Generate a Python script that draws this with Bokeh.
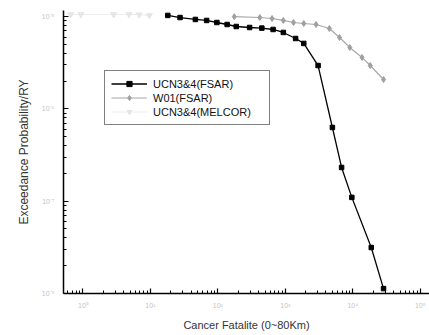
from bokeh.plotting import figure
from bokeh.models import FixedTicker, Legend, LegendItem
from bokeh.embed import file_html
from bokeh.resources import INLINE

# ---- data ----
ucn_fsar_x = [18.1, 27.5, 46.4, 68.1, 96.6, 137, 187, 295, 448, 658, 933, 1418, 1874,
              3055, 4977, 6810, 9660, 18740, 28500]
ucn_fsar_y = [1.03e-5, 9.77e-6, 9.31e-6, 9.08e-6, 8.63e-6, 8.21e-6, 7.81e-6, 7.62e-6,
              7.5e-6, 7.25e-6, 6.73e-6, 5.79e-6, 5.12e-6, 2.95e-6, 6.29e-7, 2.32e-7,
              1.10e-7, 3.15e-8, 1.13e-8]

w01_x = [175, 418, 635, 933, 1322, 1874, 2851, 4487, 6353, 9010, 13680, 18110, 28500]
w01_y = [9.98e-6, 9.77e-6, 9.53e-6, 9.08e-6, 8.63e-6, 8.42e-6, 8.21e-6, 7.43e-6,
         5.94e-6, 4.63e-6, 3.61e-6, 2.95e-6, 2.08e-6]

melcor_x = [0.658, 0.933, 2.85, 4.81, 6.81, 9.66]
melcor_y = [1.055e-5, 1.055e-5, 1.055e-5, 1.055e-5, 1.05e-5, 1.03e-5]

x_ticks = [1, 10, 100, 1000, 10000, 100000]
x_tick_labels = ["10\u2070", "10\u00b9", "10\u00b2", "10\u00b3", "10\u2074", "10\u2075"]
y_ticks = [1e-8, 1e-7, 1e-6, 1e-5]
y_tick_labels = ["10\u207b\u2078", "10\u207b\u2077", "10\u207b\u2076", "10\u207b\u2075"]

series_names = ["UCN3&4(FSAR)", "W01(FSAR)", "UCN3&4(MELCOR)"]

FONT = "Liberation Sans"

p = figure(width=429, height=335, x_axis_type="log", y_axis_type="log",
           x_range=(10 ** -0.288, 10 ** 5.136), y_range=(1e-8, 10 ** -4.934),
           output_backend="svg", toolbar_location=None,
           min_border_left=63, min_border_right=0, min_border_top=10, min_border_bottom=42)
p.outline_line_color = None
p.xgrid.visible = False
p.ygrid.visible = False
p.background_fill_color = "white"

def minor_for(ticks):
    out = [ticks[0] / 10 * k for k in range(2, 10)]
    for t in ticks:
        for k in range(2, 10):
            out.append(t * k)
    return out

p.xaxis.ticker = FixedTicker(ticks=x_ticks, minor_ticks=minor_for(x_ticks))
p.yaxis.ticker = FixedTicker(ticks=y_ticks, minor_ticks=minor_for(y_ticks))
p.xaxis.major_label_overrides = {t: l for t, l in zip(x_ticks, x_tick_labels)}
p.yaxis.major_label_overrides = {t: l for t, l in zip(y_ticks, y_tick_labels)}

for ax in (p.xaxis[0], p.yaxis[0]):
    ax.axis_line_color = "black"
    ax.axis_line_width = 1.5
    ax.major_tick_line_color = "black"
    ax.minor_tick_line_color = "black"
    ax.major_tick_line_width = 1.2
    ax.major_tick_in = 5
    ax.major_tick_out = 0
    ax.minor_tick_in = 3
    ax.minor_tick_out = 0
    ax.major_label_text_color = "#c4c4c4"
    ax.major_label_text_font = FONT
    ax.major_label_text_font_size = "7px"
    ax.axis_label_text_font = FONT
    ax.axis_label_text_font_style = "normal"
    ax.axis_label_text_color = "#333333"

p.xaxis.major_label_standoff = 8
p.yaxis.major_label_standoff = 9
p.xaxis.axis_label = "Cancer Fatalite (0~80Km)"
p.xaxis.axis_label_text_font_size = "11px"
p.xaxis.axis_label_standoff = 7
p.yaxis.axis_label = "Exceedance Probability/RY"
p.yaxis.axis_label_text_font_size = "12px"
p.yaxis.axis_label_standoff = 8

l1 = p.line(ucn_fsar_x, ucn_fsar_y, line_color="black", line_width=1.3)
m1 = p.scatter(ucn_fsar_x, ucn_fsar_y, marker="square", size=4.5, fill_color="black",
               line_color="black")
l2 = p.line(w01_x, w01_y, line_color="#a8a8a8", line_width=1.2)
m2 = p.scatter(w01_x, w01_y, marker="diamond", size=6, fill_color="#a0a0a0",
               line_color="#a0a0a0")
l3 = p.line(melcor_x, melcor_y, line_color="#ededed", line_width=1.0)
m3 = p.scatter(melcor_x, melcor_y, marker="inverted_triangle", size=6,
               fill_color="#e6e6e6", line_color="#e6e6e6")

legend = Legend(items=[LegendItem(label=series_names[0], renderers=[l1, m1]),
                       LegendItem(label=series_names[1], renderers=[l2, m2]),
                       LegendItem(label=series_names[2], renderers=[l3, m3])],
                location=(41, 168))
legend.border_line_color = "black"
legend.border_line_width = 1.5
legend.background_fill_color = "white"
legend.background_fill_alpha = 1.0
legend.padding = 6
legend.margin = 0
legend.spacing = 1
legend.glyph_width = 36
legend.glyph_height = 13
legend.label_standoff = 6
legend.label_width = 110
legend.label_height = 13
legend.label_text_font = FONT
legend.label_text_font_size = "11px"
legend.label_text_color = "#111111"
legend.label_text_baseline = "middle"
p.add_layout(legend, "center")

open("out.html", "w").write(file_html(p, INLINE))
